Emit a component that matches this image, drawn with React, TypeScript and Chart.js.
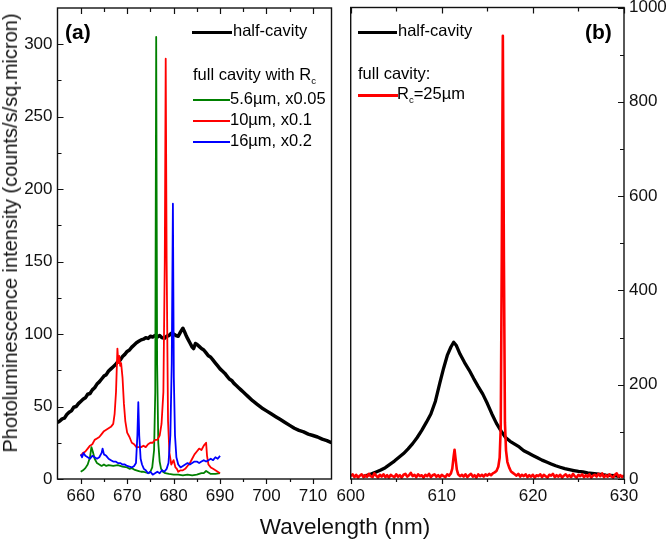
import React, { useEffect, useRef } from 'react';
import { Chart, registerables } from 'chart.js';

Chart.register(...registerables);

const FONT = '"Liberation Sans", Arial, Helvetica, sans-serif';

// ---------- Panel (a) axes ----------
const A_X_RANGE = [655, 714];
const A_Y_RANGE = [0, 325];
const A_X_LABELS = [660, 670, 680, 690, 700, 710];
const A_X_MINOR = [665, 675, 685, 695, 705];
const A_Y_LABELS = [0, 50, 100, 150, 200, 250, 300];
const A_Y_MINOR = [25, 75, 125, 175, 225, 275];

// ---------- Panel (b) axes ----------
const B_X_RANGE = [600, 630];
const B_Y_RANGE = [0, 1000];
const B_X_LABELS = [600, 610, 620, 630];
const B_X_MINOR = [605, 615, 625];
const B_Y_LABELS = [0, 200, 400, 600, 800, 1000];
const B_Y_MINOR = [100, 300, 500, 700, 900];

// ---------- Series names ----------
const A_NAMES = ['half-cavity', '5.6\u00b5m, x0.05', '10\u00b5m, x0.1', '16\u00b5m, x0.2'];
const B_NAMES = ['half-cavity', 'R_c=25\u00b5m'];

// ---------- Panel (a) data: [wavelength nm, intensity] ----------
const HALF_A: [number, number][] = [
  [655, 39], [655.5, 40], [656, 41.5], [656.5, 42], [657, 44.5], [657.5, 46], [658, 47], [658.5, 49.5],
  [659, 50], [659.5, 52], [660, 53.5], [660.5, 55], [661, 56], [661.5, 58.5], [662, 59], [662.5, 61.5],
  [663, 63], [663.5, 65.5], [664, 67], [664.5, 69], [665, 71], [665.5, 72], [666, 74.5], [666.5, 76],
  [667, 77.5], [667.5, 79], [668, 81], [668.5, 82], [669, 84.5], [669.5, 86], [670, 88], [670.5, 89],
  [671, 91], [671.5, 92.5], [672, 94], [672.5, 95], [673, 96], [673.5, 96.5], [674, 97.5], [674.5, 97],
  [675, 98.5], [675.5, 98], [676, 99], [676.5, 98], [677, 99], [677.5, 97.5], [678, 97], [678.5, 98.5],
  [679, 99], [679.5, 100.5], [680, 100], [680.5, 99], [681, 98.5], [681.5, 101.5], [682, 104], [682.3, 102],
  [682.7, 99], [683, 97], [683.5, 94], [684, 91], [684.3, 90], [684.7, 93.5], [685, 93], [685.5, 91.5],
  [686, 90], [686.5, 89], [687, 87], [687.5, 85], [688, 84], [688.5, 82], [689, 80], [689.5, 78],
  [690, 76], [690.5, 74.5], [691, 73], [691.5, 71], [692, 69], [692.5, 68], [693, 66], [693.5, 64.5],
  [694, 63], [694.5, 61.5], [695, 60], [695.5, 58.5], [696, 57], [697, 54], [698, 51.5], [699, 49],
  [700, 47], [701, 45], [702, 43], [703, 41], [704, 39], [705, 37], [706, 35], [707, 33.5],
  [708, 32.5], [709, 31], [710, 30], [711, 29], [712, 27.5], [713, 26.5], [714, 25],
];

const GREEN_A: [number, number][] = [
  [660, 5], [660.5, 6], [661, 7.5], [661.5, 10], [662, 15], [662.3, 22], [662.6, 19], [663, 14],
  [663.5, 11], [664, 10], [664.5, 9], [665, 10], [665.5, 9], [666, 9.5], [667, 9], [668, 9.5],
  [669, 8.5], [670, 8], [670.5, 7], [671, 7.5], [671.5, 6.5], [672, 6], [672.5, 5.5], [673, 5],
  [673.5, 5], [674, 4.5], [674.6, 4], [675, 5], [675.4, 8], [675.8, 20], [676.05, 60], [676.25, 305],
  [676.45, 80], [676.7, 25], [677, 12], [677.3, 7], [677.7, 5], [678.2, 4], [679, 3.5], [680, 3],
  [681, 3], [682, 2.5], [683, 3], [684, 2.5], [685, 3], [686, 4], [686.5, 4], [687, 5.5],
  [687.5, 4.5], [688, 3.5], [689, 3.5], [690, 4],
];

const RED_A: [number, number][] = [
  [660, 16], [660.5, 18], [661, 19], [661.5, 21], [662, 23], [662.5, 24], [663, 27], [663.5, 28],
  [664, 29], [664.5, 31], [665, 33], [665.5, 34], [666, 35], [666.5, 36], [667, 38], [667.3, 45],
  [667.6, 60], [667.9, 90], [668.1, 80], [668.3, 85], [668.5, 78], [668.7, 80], [669, 70], [669.3, 52],
  [669.6, 40], [670, 32], [670.5, 29], [671, 25], [671.5, 24], [672, 22], [672.5, 22], [673, 22],
  [673.5, 23], [674, 22], [674.5, 24], [675, 25], [675.5, 25], [676, 27], [676.5, 27], [677, 30],
  [677.4, 38], [677.8, 60], [678.1, 150], [678.3, 290], [678.5, 150], [678.8, 40], [679.1, 18], [679.5, 10],
  [680, 13], [680.4, 8], [680.7, 7], [681, 5], [681.5, 6], [682, 6], [682.5, 7], [683, 9],
  [683.5, 11], [684, 14], [684.5, 17], [685, 19], [685.5, 21], [686, 20], [686.5, 23], [687, 25],
  [687.2, 16], [687.5, 10], [688, 8], [688.5, 7], [689, 6], [689.5, 5], [690, 4],
];

const BLUE_A: [number, number][] = [
  [660, 17], [660.3, 15], [660.6, 18], [661, 16], [661.5, 15], [662, 14], [662.5, 16], [663, 15],
  [663.5, 14], [664, 15], [664.5, 18], [664.7, 21], [665, 17], [665.5, 16], [666, 14], [666.5, 13],
  [667, 12], [667.5, 12], [668, 11], [668.5, 11], [669, 10], [669.5, 10], [670, 9], [670.5, 8.5],
  [671, 8], [671.5, 9], [671.9, 11], [672.2, 30], [672.4, 53], [672.6, 30], [672.9, 14], [673.2, 10],
  [673.6, 7], [674, 6], [674.5, 4], [675, 5], [675.5, 3], [676, 4], [676.5, 5], [677, 4],
  [677.5, 6], [678, 5], [678.5, 7], [678.9, 11], [679.3, 30], [679.6, 80], [679.85, 190], [680.05, 70],
  [680.3, 30], [680.6, 15], [681, 10], [681.5, 8], [682, 9], [682.5, 10], [683, 11], [683.5, 10],
  [684, 11], [684.5, 12], [685, 12], [685.5, 11], [686, 12], [686.5, 13], [687, 12], [687.5, 13],
  [688, 14], [688.5, 13], [689, 15], [689.5, 14], [690, 16],
];

// ---------- Panel (b) data ----------
const HALF_B: [number, number][] = [
  [601.3, 5], [601.8, 8], [602.3, 11], [602.8, 15], [603.3, 19], [603.8, 24], [604.3, 31], [604.8, 38],
  [605.3, 46], [605.8, 54], [606.3, 64], [606.8, 75], [607.3, 88], [607.8, 103], [608.3, 120], [608.8, 138],
  [609.3, 165], [609.8, 205], [610.2, 235], [610.6, 262], [611, 280], [611.3, 290], [611.6, 283], [612, 265],
  [612.5, 247], [613, 231], [613.5, 213], [614, 196], [614.5, 180], [615, 160], [615.5, 138], [616, 118],
  [616.5, 102], [617, 88], [617.5, 80], [618, 74], [618.5, 68], [619, 60], [619.5, 55], [620, 50],
  [620.5, 45], [621, 40], [621.5, 36], [622, 32], [622.5, 28], [623, 25], [623.5, 22], [624, 20],
  [624.5, 18], [625, 16], [625.5, 15], [626, 13], [627, 11], [628, 8], [629, 7], [629.6, 5],
];

const RED_B: [number, number][] = [
  [600, 6], [600.2, 10], [600.4, 4], [600.6, 9], [600.8, 3], [601, 7], [601.2, 10], [601.4, 4],
  [601.6, 8], [601.8, 5], [602, 11], [602.2, 6], [602.4, 4], [602.6, 12], [602.8, 7], [603, 3],
  [603.2, 9], [603.4, 5], [603.6, 10], [603.8, 4], [604, 8], [604.2, 3], [604.4, 9], [604.6, 6],
  [604.8, 4], [605, 10], [605.2, 5], [605.4, 8], [605.6, 3], [605.8, 9], [606, 11], [606.2, 5],
  [606.4, 8], [606.6, 13], [606.8, 6], [607, 9], [607.2, 4], [607.4, 10], [607.6, 6], [607.8, 8],
  [608, 3], [608.2, 9], [608.4, 6], [608.6, 11], [608.8, 4], [609, 8], [609.2, 10], [609.4, 5],
  [609.6, 8], [609.8, 4], [610, 9], [610.2, 6], [610.4, 4], [610.6, 10], [610.8, 7], [611, 12],
  [611.15, 22], [611.3, 48], [611.4, 62], [611.5, 45], [611.65, 20], [611.8, 10], [612, 6], [612.2, 9],
  [612.4, 5], [612.6, 10], [612.8, 4], [613, 8], [613.2, 11], [613.4, 5], [613.6, 8], [613.8, 3],
  [614, 10], [614.2, 6], [614.4, 9], [614.6, 5], [614.8, 10], [615, 7], [615.2, 11], [615.4, 8],
  [615.6, 12], [615.8, 14], [616, 17], [616.2, 26], [616.35, 45], [616.47, 110], [616.58, 460], [616.7, 940],
  [616.82, 460], [616.93, 120], [617.05, 60], [617.2, 36], [617.4, 24], [617.6, 16], [617.8, 13], [618, 10],
  [618.2, 7], [618.4, 11], [618.6, 5], [618.8, 9], [619, 6], [619.2, 10], [619.4, 4], [619.6, 8],
  [619.8, 5], [620, 9], [620.2, 3], [620.4, 8], [620.6, 6], [620.8, 10], [621, 4], [621.2, 9],
  [621.4, 6], [621.6, 3], [621.8, 9], [622, 7], [622.2, 11], [622.4, 4], [622.6, 8], [622.8, 5],
  [623, 9], [623.2, 3], [623.4, 7], [623.6, 10], [623.8, 5], [624, 8], [624.2, 4], [624.4, 11],
  [624.6, 6], [624.8, 3], [625, 9], [625.2, 6], [625.4, 10], [625.6, 4], [625.8, 8], [626, 5],
  [626.2, 10], [626.4, 3], [626.6, 7], [626.8, 9], [627, 5], [627.2, 11], [627.4, 6], [627.6, 12],
  [627.8, 4], [628, 8], [628.2, 5], [628.4, 10], [628.6, 6], [628.8, 3], [629, 9], [629.2, 12],
  [629.4, 5], [629.6, 8], [629.8, 4], [630, 8],
];

const GREEN = '#008000';
const RED = '#ff0000';
const BLUE = '#0000ff';
const BLACK = '#000000';

type Series = { label: string; data: [number, number][]; color: string; width: number };

function frameTicksPlugin(cfg: any) {
  return {
    id: 'frameTicks',
    afterDatasetsDraw(chart: any) {
      const { ctx, chartArea: a } = chart;
      const xs = chart.scales.x;
      const ys = chart.scales.y;
      ctx.save();
      ctx.strokeStyle = '#111';
      ctx.lineWidth = 1.4;
      ctx.strokeRect(a.left, a.top, a.right - a.left, a.bottom - a.top);
      ctx.lineWidth = 1.2;
      ctx.beginPath();
      const xt = (vals: number[], out: number, inn: number) => {
        vals.forEach((v) => {
          const px = Math.round(xs.getPixelForValue(v)) + 0.5;
          ctx.moveTo(px, a.bottom);
          ctx.lineTo(px, a.bottom + out);
          ctx.moveTo(px, a.top);
          ctx.lineTo(px, a.top + inn);
        });
      };
      xt(cfg.xLabels, 5, 6);
      xt(cfg.xMinor, 3, 4);
      const yt = (vals: number[], len: number) => {
        vals.forEach((v) => {
          const py = Math.round(ys.getPixelForValue(v)) + 0.5;
          if (cfg.ySide === 'left') {
            ctx.moveTo(a.left, py);
            ctx.lineTo(a.left + len, py);
          } else {
            ctx.moveTo(a.right, py);
            ctx.lineTo(a.right - len, py);
          }
        });
      };
      yt(cfg.yLabels, 6);
      yt(cfg.yMinor, 4);
      ctx.stroke();
      ctx.restore();
    },
  };
}

function makeChart(canvas: HTMLCanvasElement, cfg: any) {
  const tickFont = { family: FONT, size: 17 };
  return new Chart(canvas, {
    type: 'line',
    data: {
      datasets: cfg.series.map((s: Series) => ({
        label: s.label,
        data: s.data.map(([x, y]) => ({ x, y })),
        borderColor: s.color,
        backgroundColor: s.color,
        borderWidth: s.width,
        pointRadius: 0,
        tension: 0,
        fill: false,
        borderJoinStyle: 'round',
      })),
    },
    options: {
      responsive: false,
      animation: false,
      events: [],
      layout: { padding: cfg.padding },
      plugins: { legend: { display: false }, tooltip: { enabled: false }, title: { display: false } },
      scales: {
        x: {
          type: 'linear',
          position: 'bottom',
          min: cfg.xRange[0],
          max: cfg.xRange[1],
          grid: { display: false, drawTicks: false },
          border: { display: false },
          ticks: {
            font: tickFont,
            color: '#111',
            padding: 7,
            maxRotation: 0,
            autoSkip: false,
            callback: (v: any) => String(v),
          },
          afterBuildTicks: (s: any) => {
            s.ticks = cfg.xLabels.map((v: number) => ({ value: v }));
          },
          afterFit: (s: any) => {
            s.height = cfg.xHeight;
            s.paddingLeft = 0;
            s.paddingRight = 0;
            s.paddingTop = 0;
            s.paddingBottom = 0;
          },
        },
        y: {
          type: 'linear',
          position: cfg.ySide,
          min: cfg.yRange[0],
          max: cfg.yRange[1],
          grid: { display: false, drawTicks: false },
          border: { display: false },
          ticks: {
            font: tickFont,
            color: '#111',
            padding: 5,
            autoSkip: false,
            callback: (v: any) => String(v),
          },
          afterBuildTicks: (s: any) => {
            s.ticks = cfg.yLabels.map((v: number) => ({ value: v }));
          },
          afterFit: (s: any) => {
            s.width = cfg.yWidth;
            s.paddingLeft = 0;
            s.paddingRight = 0;
            s.paddingTop = 0;
            s.paddingBottom = 0;
          },
        },
      },
    },
    plugins: [frameTicksPlugin(cfg)],
  } as any);
}

const Txt = ({ x, cy, size = 16.5, bold = false, children }: any) => (
  <div
    style={{
      position: 'absolute',
      left: x,
      top: cy - 0.59 * size,
      fontSize: size,
      lineHeight: 1,
      fontWeight: bold ? 'bold' : 'normal',
      whiteSpace: 'nowrap',
      color: '#000',
      fontFamily: FONT,
    }}
  >
    {children}
  </div>
);

const Seg = ({ x1, x2, y, w, color }: any) => (
  <div style={{ position: 'absolute', left: x1, top: y - w / 2, width: x2 - x1, height: w, background: color }} />
);

const Sub = ({ children }: any) => (
  <span style={{ fontSize: '58%', position: 'relative', top: '0.35em' }}>{children}</span>
);

export default function App() {
  const refA = useRef<HTMLCanvasElement>(null);
  const refB = useRef<HTMLCanvasElement>(null);

  useEffect(() => {
    const chartA = makeChart(refA.current!, {
      series: [
        { label: A_NAMES[3], data: BLUE_A, color: BLUE, width: 1.8 },
        { label: A_NAMES[2], data: RED_A, color: RED, width: 1.8 },
        { label: A_NAMES[1], data: GREEN_A, color: GREEN, width: 1.8 },
        { label: A_NAMES[0], data: HALF_A, color: BLACK, width: 3.5 },
      ],
      xRange: A_X_RANGE,
      yRange: A_Y_RANGE,
      xLabels: A_X_LABELS,
      xMinor: A_X_MINOR,
      yLabels: A_Y_LABELS,
      yMinor: A_Y_MINOR,
      ySide: 'left',
      padding: { left: 0, top: 8, right: 9.5, bottom: 0 },
      yWidth: 57.5,
      xHeight: 62,
    });
    const chartB = makeChart(refB.current!, {
      series: [
        { label: B_NAMES[1], data: RED_B, color: RED, width: 2.6 },
        { label: B_NAMES[0], data: HALF_B, color: BLACK, width: 3.3 },
      ],
      xRange: B_X_RANGE,
      yRange: B_Y_RANGE,
      xLabels: B_X_LABELS,
      xMinor: B_X_MINOR,
      yLabels: B_Y_LABELS,
      yMinor: B_Y_MINOR,
      ySide: 'right',
      padding: { left: 50.7, top: 7.5, right: 0, bottom: 0 },
      yWidth: 42,
      xHeight: 62,
    });
    return () => {
      chartA.destroy();
      chartB.destroy();
    };
  }, []);

  return (
    <div
      style={{
        position: 'fixed',
        left: 0,
        top: 0,
        width: 666,
        height: 541,
        background: '#fff',
        overflow: 'hidden',
        fontFamily: FONT,
      }}
    >
      <canvas ref={refA} width={341} height={541} style={{ position: 'absolute', left: 0, top: 0, width: 341, height: 541 }} />
      <canvas ref={refB} width={366} height={541} style={{ position: 'absolute', left: 300, top: 0, width: 366, height: 541 }} />

      {/* Axis titles */}
      <div
        style={{
          position: 'absolute',
          left: 10,
          top: 233,
          transform: 'translate(-50%, -50%) rotate(-90deg)',
          fontSize: 20,
          lineHeight: 1,
          whiteSpace: 'nowrap',
          color: '#111',
        }}
      >
        Photoluminescence intensity (counts/s/sq.micron)
      </div>
      <div
        style={{
          position: 'absolute',
          left: 345,
          top: 516,
          transform: 'translateX(-50%)',
          fontSize: 22.5,
          lineHeight: 1,
          whiteSpace: 'nowrap',
          color: '#111',
        }}
      >
        Wavelength (nm)
      </div>

      {/* Panel (a) legend */}
      <Txt x={65} cy={33} size={21} bold>(a)</Txt>
      <Seg x1={192} x2={232} y={32} w={3} color={BLACK} />
      <Txt x={233} cy={32}>{A_NAMES[0]}</Txt>
      <Txt x={193} cy={76}>
        full cavity with R<Sub>c</Sub>
      </Txt>
      <Seg x1={193} x2={230} y={100} w={1.8} color={GREEN} />
      <Txt x={230} cy={100}>{A_NAMES[1]}</Txt>
      <Seg x1={193} x2={230} y={121} w={1.8} color={RED} />
      <Txt x={230} cy={121}>{A_NAMES[2]}</Txt>
      <Seg x1={193} x2={230} y={142} w={1.8} color={BLUE} />
      <Txt x={230} cy={142}>{A_NAMES[3]}</Txt>

      {/* Panel (b) legend */}
      <Txt x={585} cy={33} size={21} bold>(b)</Txt>
      <Seg x1={358} x2={397} y={32} w={3} color={BLACK} />
      <Txt x={398} cy={32}>{B_NAMES[0]}</Txt>
      <Txt x={358} cy={75}>full cavity:</Txt>
      <Seg x1={358} x2={398} y={95} w={3} color={RED} />
      <Txt x={397} cy={95}>
        R<Sub>c</Sub>=25{'\u00b5'}m
      </Txt>
    </div>
  );
}
